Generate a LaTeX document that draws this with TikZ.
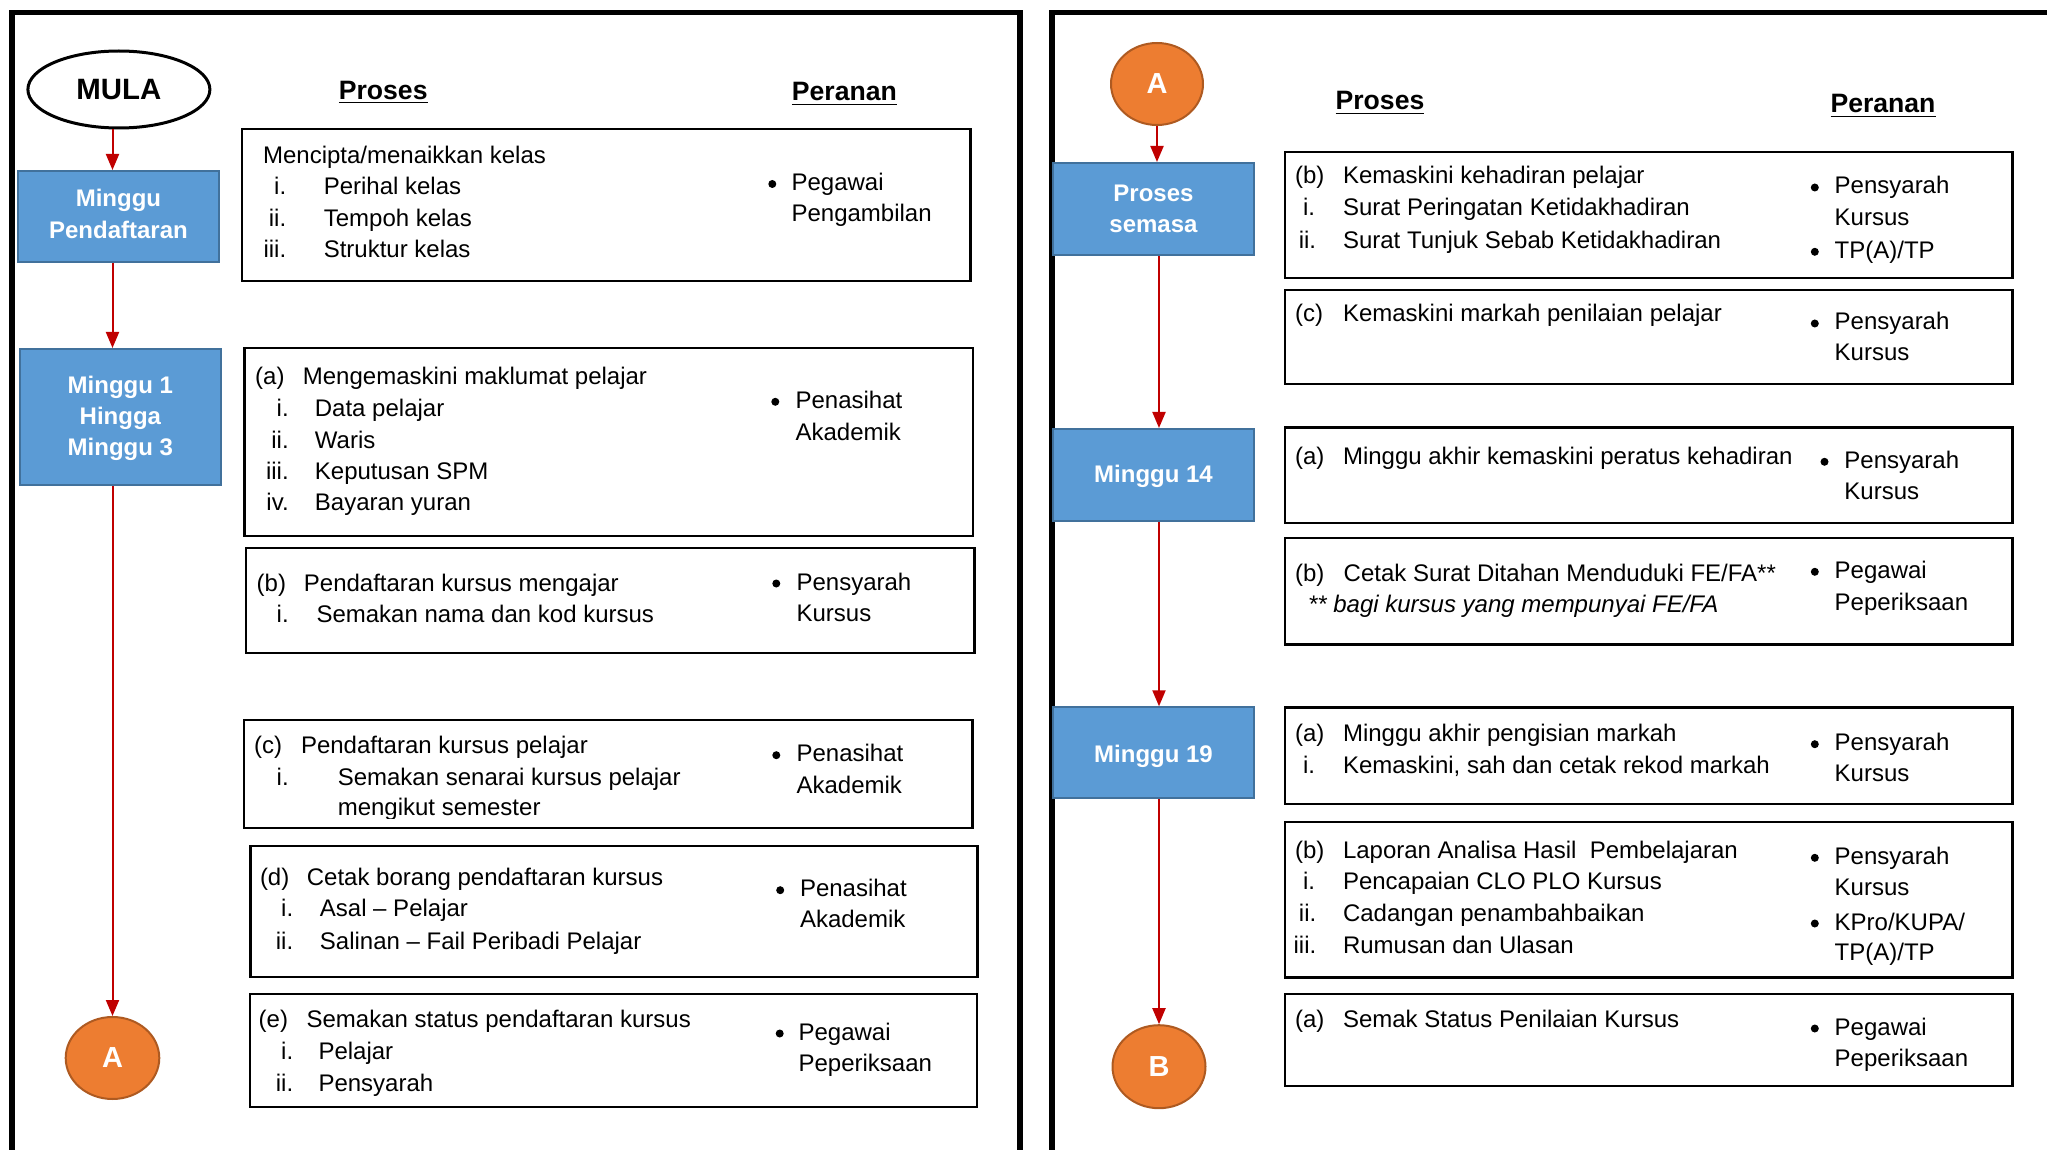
\documentclass[tikz,border=0pt]{standalone}
\usepackage{fontspec}
\setmainfont{Liberation Sans}
\usetikzlibrary{arrows.meta,shapes.geometric,fit}
\definecolor{bluefill}{HTML}{5B9BD5}
\definecolor{blueedge}{HTML}{41719C}
\definecolor{orfill}{HTML}{ED7D31}
\definecolor{oredge}{HTML}{AE5A21}
\definecolor{arrred}{HTML}{C00000}
\tikzset{
  txt/.style={font=\fontsize{12}{14}\selectfont, inner sep=0pt, anchor=base west},
  hdr/.style={font=\fontsize{13.3}{15}\selectfont\bfseries, inner sep=0pt, anchor=base},
  pbox/.style={draw=black, line width=1.2pt, inner sep=0pt},
  wbox/.style={draw=blueedge, fill=bluefill, line width=1pt, inner sep=0pt},
  wtxt/.style={inner sep=0pt, text=white, font=\fontsize{12}{15.6}\selectfont\bfseries, align=center},
  conn/.style={ellipse, draw=oredge, fill=orfill, line width=1pt, inner sep=0pt, text=white,
    font=\fontsize{14.5}{16}\selectfont\bfseries},
  arr/.style={draw=arrred, line width=1pt, -{Triangle[length=8pt,width=6.5pt]}},
  frame/.style={draw=black, line width=2.75pt, line join=miter},
  dot/.style={circle, fill=black, inner sep=0pt, minimum size=4pt}
}
\newcommand\txtL[4]{\node[txt] (#1) at (#2,#3) {#4};}
\newcommand\txtR[4]{\node[txt,anchor=base east] (#1) at (#2,#3) {#4};}
\newcommand\bulL[5]{\node[dot] (#1b) at (#2,#4-6.5) {}; \node[txt] (#1) at (#3,#4) {#5};}
\begin{document}
\begin{tikzpicture}[x=0.5pt,y=-0.5pt]
\useasboundingbox (0,0) rectangle (2047,1150);
% frames
\draw[frame] (12.2,1150) -- (12.2,12.5) -- (1020,12.5) -- (1020,1150);
\draw[frame] (1052,1150) -- (1052,12.5) -- (2047,12.5);

% ---------- left panel ----------
\node[ellipse, draw=black, line width=1.5pt, minimum width=91pt, minimum height=38.5pt, inner sep=0pt,
  font=\fontsize{14.7}{16}\selectfont\bfseries] (mula) at (118.9,89.5) {MULA};
\node[wbox, fit={(17.9,171) (219,262)}] (pend) {};
\node[wtxt] (pendT) at ([yshift=1.3pt]pend.center) {Minggu\\Pendaftaran};
\node[wbox, fit={(19.9,349) (220.9,485)}] (m1) {};
\node[wtxt] (m1T) at ([yshift=-0.6pt]m1.center) {Minggu 1\\Hingga\\Minggu 3};
\node[conn, minimum width=46.8pt, minimum height=41pt] (A1) at (112.5,1058) {A};

\draw[arr] (mula.south -| A1.north) -- (pend.north -| A1.north);
\draw[arr] (pend.south -| A1.north) -- (m1.north -| A1.north);
\draw[arr] (m1.south -| A1.north) -- (A1.north);

\node[hdr] (hp1) at (383.2,99.3) {\underline{Proses}};
\node[hdr] (hr1) at (844.4,101) {\underline{Peranan}};

% box 1
\node[pbox, fit={(241.8,129) (970.3,281)}] (b1) {};
\txtL{b1t}{262.7}{164}{Mencipta/menaikkan kelas}
\txtR{b1i}{286.6}{195}{i.}   \txtL{b1it}{323.4}{195}{Perihal kelas}
\txtR{b1ii}{286.6}{227}{ii.} \txtL{b1iit}{323.4}{227}{Tempoh kelas}
\txtR{b1iii}{286.6}{258}{iii.} \txtL{b1iiit}{323.4}{258}{Struktur kelas}
\bulL{b1p}{772.3}{791.2}{190.5}{Pegawai}
\txtL{b1p2}{791.2}{222}{Pengambilan}

% box 2
\node[pbox, fit={(244.3,348) (972.8,536)}] (b2) {};
\txtL{b2a}{254.8}{385}{(a)} \txtL{b2t}{302.5}{385}{Mengemaskini maklumat pelajar}
\txtR{b2i}{289.1}{416.7}{i.}  \txtL{b2it}{314.5}{416.7}{Data pelajar}
\txtR{b2ii}{289.1}{448.3}{ii.} \txtL{b2iit}{314.5}{448.3}{Waris}
\txtR{b2iii}{289.1}{480}{iii.} \txtL{b2iiit}{314.5}{480}{Keputusan SPM}
\txtR{b2iv}{289.1}{510.7}{iv.} \txtL{b2ivt}{314.5}{510.7}{Bayaran yuran}
\bulL{b2p}{775.3}{795.2}{408.3}{Penasihat}
\txtL{b2p2}{795.2}{440}{Akademik}

% box 3
\node[pbox, fit={(245.8,548) (974.3,653)}] (b3) {};
\txtL{b3a}{256.3}{591.7}{(b)} \txtL{b3t}{303.5}{591.7}{Pendaftaran kursus mengajar}
\txtR{b3i}{289.1}{622.7}{i.} \txtL{b3it}{316.1}{622.7}{Semakan nama dan kod kursus}
\bulL{b3p}{776.3}{796.2}{590}{Pensyarah}
\txtL{b3p2}{796.2}{621.7}{Kursus}

% box 4
\node[pbox, fit={(243.8,720) (972.3,828)}] (b4) {};
\txtL{b4a}{253.8}{753.3}{(c)} \txtL{b4t}{300.6}{753.3}{Pendaftaran kursus pelajar}
\txtR{b4i}{289.1}{785}{i.} \txtL{b4it}{337.4}{785}{Semakan senarai kursus pelajar}
\begin{scope}
\clip (243.8,720) rectangle (972.3,818.5);
\txtL{b4it2}{337.4}{815.7}{mengikut semester}
\end{scope}
\bulL{b4p}{776.3}{796.2}{761.7}{Penasihat}
\txtL{b4p2}{796.2}{793.3}{Akademik}

% box 5
\node[pbox, fit={(250.3,846) (977.3,977)}] (b5) {};
\txtL{b5a}{259.6}{885.7}{(d)} \txtL{b5t}{306.5}{885.7}{Cetak borang pendaftaran kursus}
\txtR{b5i}{293.6}{916.7}{i.} \txtL{b5it}{319.5}{916.7}{Asal – Pelajar}
\txtR{b5ii}{293.6}{949}{ii.} \txtL{b5iit}{319.5}{949}{Salinan – Fail Peribadi Pelajar}
\bulL{b5p}{780.2}{799.6}{896.7}{Penasihat}
\txtL{b5p2}{799.6}{927.3}{Akademik}

% box 6
\node[pbox, fit={(249.8,994) (976.8,1107)}] (b6) {};
\txtL{b6a}{258.3}{1027.7}{(e)} \txtL{b6t}{306.2}{1027.7}{Semakan status pendaftaran kursus}
\txtR{b6i}{293.6}{1059}{i.} \txtL{b6it}{318.1}{1059}{Pelajar}
\txtR{b6ii}{293.6}{1091.7}{ii.} \txtL{b6iit}{318.1}{1091.7}{Pensyarah}
\bulL{b6p}{779.7}{798.2}{1040}{Pegawai}
\txtL{b6p2}{798.2}{1071.7}{Peperiksaan}

% ---------- right panel ----------
\node[conn, minimum width=46pt, minimum height=41pt] (A2) at (1157,84) {A};
\node[wbox, fit={(1053,163) (1254,255)}] (ps) {};
\node[wtxt] (psT) at (ps.center) {Proses\\semasa};
\node[wbox, fit={(1053,429) (1254,520.7)}] (m14) {};
\node[wtxt] (m14T) at ([yshift=-0.6pt]m14.center) {Minggu 14};
\node[wbox, fit={(1053,707.3) (1254,798.3)}] (m19) {};
\node[wtxt] (m19T) at ([yshift=-1.7pt]m19.center) {Minggu 19};
\node[conn, minimum width=46.5pt, minimum height=41.5pt] (B) at (1159,1066.7) {B};

\draw[arr] (A2.south) -- (ps.north -| A2.south);
\draw[arr] (ps.south -| B.north) -- (m14.north -| B.north);
\draw[arr] (m14.south -| B.north) -- (m19.north -| B.north);
\draw[arr] (m19.south -| B.north) -- (B.north);

\node[hdr] (hp2) at (1380,110) {\underline{Proses}};
\node[hdr] (hr2) at (1883,113) {\underline{Peranan}};

% R1
\node[pbox, fit={(1285,152) (2012.6,278)}] (r1) {};
\txtL{r1a}{1294.6}{184}{(b)} \txtL{r1t}{1342.6}{184}{Kemaskini kehadiran pelajar}
\txtR{r1i}{1315.4}{216}{i.} \txtL{r1it}{1342.6}{216}{Surat Peringatan Ketidakhadiran}
\txtR{r1ii}{1316.5}{248.3}{ii.} \txtL{r1iit}{1342.6}{248.3}{Surat Tunjuk Sebab Ketidakhadiran}
\bulL{r1p}{1814.8}{1834.3}{194}{Pensyarah}
\txtL{r1p2}{1834.3}{226}{Kursus}
\bulL{r1q}{1814.8}{1834.3}{258.3}{TP(A)/TP}

% R2
\node[pbox, fit={(1285,290) (2012.6,384)}] (r2) {};
\txtL{r2a}{1294.6}{321.7}{(c)} \txtL{r2t}{1342.6}{321.7}{Kemaskini markah penilaian pelajar}
\bulL{r2p}{1814.8}{1834.3}{330}{Pensyarah}
\txtL{r2p2}{1834.3}{360.7}{Kursus}

% R3
\node[pbox, fit={(1285,427.7) (2012.6,522.7)}] (r3) {};
\txtL{r3a}{1294.6}{465}{(a)} \txtL{r3t}{1342.6}{465}{Minggu akhir kemaskini peratus kehadiran}
\bulL{r3p}{1824.5}{1844}{468.3}{Pensyarah}
\txtL{r3p2}{1844}{499}{Kursus}

% R4
\node[pbox, fit={(1285,537.7) (2012.6,644.3)}] (r4) {};
\txtL{r4a}{1294.6}{581}{(b)} \txtL{r4t}{1343.3}{581}{Cetak Surat Ditahan Menduduki FE/FA**}
\txtL{r4n}{1307.6}{612.7}{\itshape ** bagi kursus yang mempunyai FE/FA}
\bulL{r4p}{1814.8}{1834.3}{578.3}{Pegawai}
\txtL{r4p2}{1834.3}{610}{Peperiksaan}

% R5
\node[pbox, fit={(1285,707.3) (2012.6,804)}] (r5) {};
\txtL{r5a}{1294.6}{741.7}{(a)} \txtL{r5t}{1342.6}{741.7}{Minggu akhir pengisian markah}
\txtR{r5i}{1315.4}{773.3}{i.} \txtL{r5it}{1342.6}{773.3}{Kemaskini, sah dan cetak rekod markah}
\bulL{r5p}{1814.8}{1834.3}{750.7}{Pensyarah}
\txtL{r5p2}{1834.3}{781.7}{Kursus}

% R6
\node[pbox, fit={(1285,822) (2012.6,977.3)}] (r6) {};
\txtL{r6a}{1294.6}{858.3}{(b)} \txtL{r6t}{1342.6}{858.3}{Laporan Analisa Hasil\ \ Pembelajaran}
\txtR{r6i}{1315.4}{889.3}{i.} \txtL{r6it}{1342.6}{889.3}{Pencapaian CLO PLO Kursus}
\txtR{r6ii}{1316.7}{921.7}{ii.} \txtL{r6iit}{1342.6}{921.7}{Cadangan penambahbaikan}
\txtR{r6iii}{1316.7}{953.3}{iii.} \txtL{r6iiit}{1342.6}{953.3}{Rumusan dan Ulasan}
\bulL{r6p}{1814.8}{1834.3}{864.3}{Pensyarah}
\txtL{r6p2}{1834.3}{895}{Kursus}
\bulL{r6q}{1814.8}{1834.3}{930}{KPro/KUPA/}
\txtL{r6q2}{1834.3}{960}{TP(A)/TP}

% R7
\node[pbox, fit={(1285,994) (2012.6,1086)}] (r7) {};
\txtL{r7a}{1294.6}{1027.3}{(a)} \txtL{r7t}{1342.6}{1027.3}{Semak Status Penilaian Kursus}
\bulL{r7p}{1814.8}{1834.3}{1035}{Pegawai}
\txtL{r7p2}{1834.3}{1066.7}{Peperiksaan}
\end{tikzpicture}
\end{document}
